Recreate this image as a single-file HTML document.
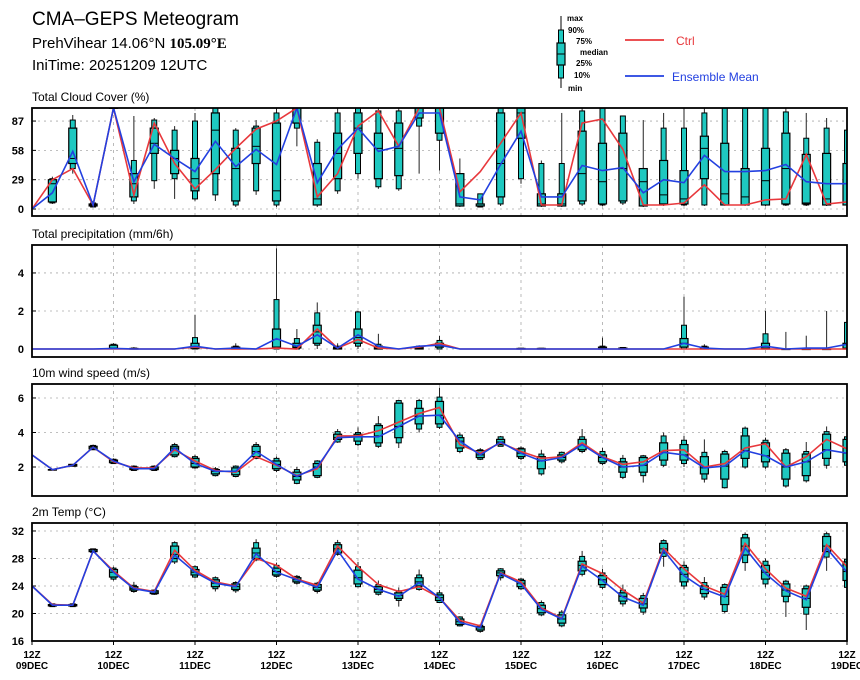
<!DOCTYPE html>
<html><head><meta charset="utf-8"><style>
body{margin:0;background:#fff;}
svg{display:block;font-family:"Liberation Sans",sans-serif;}
</style></head><body>
<svg id="chart" width="860" height="680" viewBox="0 0 860 680" xmlns="http://www.w3.org/2000/svg">
<rect width="860" height="680" fill="#fff"/>
<g>
<text x="32" y="25" font-size="19">CMA–GEPS Meteogram</text>
<text x="32" y="48" font-size="15">PrehVihear 14.06°N <tspan font-weight="bold" font-family="Liberation Serif,serif">105.09°E</tspan></text>
<text x="32" y="70" font-size="15">IniTime: 20251209 12UTC</text>
</g>
<g font-size="8" font-weight="bold">
<line x1="561" y1="16" x2="561" y2="88" stroke="#000" stroke-width="1"/>
<rect x="558.5" y="30" width="5" height="48" fill="#1ec8c0" stroke="#000" stroke-width="1"/>
<rect x="557" y="43" width="8" height="22" fill="#1ec8c0" stroke="#000" stroke-width="1.2"/>
<line x1="557" y1="54" x2="565" y2="54" stroke="#000"/>
<text x="567" y="21">max</text><text x="568" y="33">90%</text><text x="576" y="44">75%</text>
<text x="580" y="55">median</text><text x="576" y="66">25%</text><text x="574" y="78">10%</text><text x="568" y="91">min</text>
<line x1="625" y1="40" x2="664" y2="40" stroke="#e8383c" stroke-width="1.8"/>
<text x="676" y="45" font-size="12" font-weight="normal" fill="#e8383c">Ctrl</text>
<line x1="625" y1="76" x2="664" y2="76" stroke="#2340e0" stroke-width="1.8"/>
<text x="672" y="81" font-size="12" font-weight="normal" fill="#2340e0">Ensemble Mean</text>
</g>
</svg>
<script>
// ---- data ----
const dayLabels = ["09DEC","10DEC","11DEC","12DEC","13DEC","14DEC","15DEC","16DEC","17DEC","18DEC","19DEC"];
const cloudTicks = [0,29,58,87];
const precipTicks = [0,2,4];
const windTicks = [2,4,6];
const tempTicks = [16,20,24,28,32];

const cloudCtrl = [0,29,40,4,100,14,85,45,20,39,60,79,87,100,12,35,82,97,62,100,100,17,37,65,95,4,4,85,89,59,4,4,6,24,4,4,9,10,54,5,7];
const cloudMean = [0,16,57,4,100,27,64,50,37,67,42,59,44,100,26,59,80,57,62,95,95,12,9,44,77,12,12,43,38,41,16,29,26,53,37,37,38,44,27,25,25];
const cloudMin = [0,5,35,2,100,5,20,10,8,8,2,14,2,62,2,15,30,20,18,35,38,2,2,3,25,2,2,3,3,4,2,3,3,3,3,3,3,3,3,3,3];
const cloudP10 = [0,6,40,2,100,8,28,30,10,14,4,18,4,80,4,18,35,22,20,82,68,3,2,5,30,3,3,5,4,6,3,4,4,4,4,4,4,4,4,4,4];
const cloudQ1 = [0,7,45,3,100,12,55,35,18,35,8,45,8,85,4,30,55,30,33,90,75,3,3,12,70,3,3,8,5,8,3,5,5,30,4,4,4,5,5,4,4];
const cloudMed = [0,25,50,4,100,25,65,50,30,78,40,62,18,100,10,55,80,60,60,100,100,5,3,45,95,5,5,35,27,40,27,14,10,60,15,12,28,40,6,10,25];
const cloudQ3 = [0,29,80,5,100,35,80,58,50,95,60,80,85,100,45,75,95,75,85,100,100,35,5,95,100,15,15,77,65,75,40,48,38,72,65,40,60,75,54,55,45];
const cloudP90 = [0,30,88,6,100,48,88,78,87,100,78,82,95,100,66,95,100,97,97,100,100,35,15,100,100,45,45,97,100,92,40,80,80,95,100,100,100,96,70,80,78];
const cloudMax = [0,32,93,8,100,92,90,82,95,100,80,88,100,100,69,100,100,100,100,100,100,50,15,100,100,48,95,100,100,92,88,95,100,100,100,100,100,100,95,90,80];

const precCtrl = [0,0,0,0,0,0,0,0,0.1,0,0,0,0.05,0,1.05,0.05,0.5,0.05,0,0.1,0.3,0,0,0,0,0,0,0,0,0,0,0,0,0,0,0,0,0,0,0,0];
const precMean = [0,0,0,0,0.03,0,0,0,0.15,0,0.05,0,0.55,0.15,0.75,0.05,0.75,0.15,0,0.15,0.2,0,0,0,0,0,0,0,0,0,0,0,0.3,0.05,0,0,0.15,0,0.05,0.05,0.25];
const precMin = [0,0,0,0,0,0,0,0,0,0,0,0,0,0,0,0,0,0,0,0,0,0,0,0,0,0,0,0,0,0,0,0,0,0,0,0,0,0,0,0,0];
const precP10 = [0,0,0,0,0,0,0,0,0,0,0,0,0,0,0.2,0,0.15,0,0,0,0,0,0,0,0,0,0,0,0,0,0,0,0,0,0,0,0,0,0,0,0];
const precQ1 = [0,0,0,0,0.02,0,0,0,0.02,0,0,0,0.1,0.05,0.3,0,0.3,0,0,0,0.1,0,0,0,0,0,0,0,0,0,0,0,0.1,0,0,0,0,0,0,0,0];
const precMed = [0,0,0,0,0.05,0,0,0,0.1,0,0.05,0,0.5,0.1,0.9,0.05,0.6,0.05,0,0.05,0.2,0,0,0,0,0,0,0,0.05,0,0,0,0.3,0.05,0,0,0.05,0,0,0,0.05];
const precQ3 = [0,0,0,0,0.2,0.03,0,0,0.3,0,0.1,0,1.05,0.3,1.25,0.1,1.05,0.15,0,0.12,0.3,0,0,0,0.03,0.03,0,0,0.1,0.05,0,0,0.55,0.1,0,0,0.3,0,0,0,0.3];
const precP90 = [0,0,0,0,0.25,0.05,0,0,0.6,0,0.15,0,2.6,0.55,1.9,0.15,1.95,0.25,0,0.15,0.45,0,0,0,0.04,0.04,0,0,0.15,0.08,0,0,1.25,0.15,0,0,0.8,0,0,0,1.4];
const precMax = [0,0,0,0,0.3,0.1,0,0,1.8,0,0.3,0,5.3,1.05,2.45,0.3,2.0,0.8,0,0.2,0.7,0,0,0,0.05,0.05,0,0,0.6,0.1,0,0,2.75,0.25,0,0,2.0,0.9,0.7,2.0,1.45];

const windCtrl = [2.7,1.85,2.1,3.15,2.3,1.95,1.95,3.0,2.35,1.8,1.7,2.6,2.1,1.5,1.9,3.8,3.8,4.1,4.6,5.1,5.45,3.3,2.8,3.4,2.9,2.5,2.6,3.4,2.6,2.15,2.3,2.95,3.0,2.0,2.2,3.1,3.35,2.0,2.6,3.6,3.05];
const windMean = [2.7,1.85,2.1,3.15,2.35,1.9,1.9,3.1,2.2,1.75,1.75,2.9,2.15,1.45,2.0,3.7,3.75,3.75,4.35,4.95,5.0,3.5,2.7,3.45,2.8,2.35,2.55,3.3,2.55,2.0,2.1,2.85,2.7,1.95,2.05,2.95,2.65,2.0,2.3,3.0,2.8];
const windMin = [2.7,1.85,2.05,3.0,2.2,1.8,1.8,2.55,1.9,1.45,1.4,2.45,1.7,1.0,1.35,3.4,3.2,3.1,3.1,4.0,4.2,2.8,2.4,3.2,2.4,1.5,2.2,2.8,2.1,1.3,1.1,2.0,2.0,1.1,0.75,1.9,1.9,0.8,1.1,1.9,2.0];
const windP10 = [2.7,1.85,2.05,3.0,2.2,1.8,1.8,2.6,1.95,1.5,1.45,2.5,1.8,1.05,1.4,3.45,3.3,3.2,3.4,4.2,4.3,2.9,2.45,3.2,2.5,1.6,2.3,2.9,2.2,1.4,1.5,2.1,2.2,1.3,0.8,2.0,2.0,0.9,1.2,2.1,2.1];
const windQ1 = [2.7,1.85,2.05,3.05,2.25,1.85,1.85,2.7,2.0,1.6,1.55,2.6,1.9,1.25,1.5,3.6,3.5,3.4,3.7,4.5,4.5,3.1,2.55,3.3,2.6,1.9,2.4,3.0,2.3,1.7,1.7,2.4,2.4,1.6,1.3,2.5,2.3,1.3,1.5,2.5,2.3];
const windMed = [2.7,1.85,2.1,3.15,2.35,1.9,1.9,3.1,2.2,1.75,1.75,2.9,2.15,1.45,2.0,3.7,3.75,3.8,4.35,4.95,5.0,3.5,2.7,3.45,2.8,2.35,2.55,3.3,2.55,2.0,2.1,2.85,2.7,1.95,2.05,2.95,2.65,2.0,2.3,3.0,2.8];
const windQ3 = [2.7,1.85,2.15,3.2,2.4,2.0,2.0,3.2,2.5,1.85,1.95,3.2,2.35,1.7,2.2,3.9,3.9,4.4,5.7,5.4,5.8,3.7,2.95,3.6,3.05,2.6,2.7,3.6,2.7,2.3,2.55,3.4,3.3,2.6,2.75,3.8,3.4,2.8,2.75,3.9,3.6];
const windP90 = [2.7,1.85,2.15,3.25,2.45,2.05,2.05,3.3,2.6,1.9,2.05,3.3,2.5,1.85,2.35,4.05,4.0,4.5,5.85,5.85,6.05,3.85,3.0,3.75,3.1,2.75,2.85,3.75,2.9,2.5,2.65,3.8,3.55,2.85,2.9,4.25,3.55,3.0,2.9,4.05,3.75];
const windMax = [2.7,1.85,2.15,3.3,2.5,2.1,2.1,3.4,2.7,2.0,2.1,3.45,2.6,2.0,2.4,4.2,4.3,4.95,5.9,5.95,6.6,4.0,3.1,3.8,3.2,3.0,2.9,4.2,3.1,2.7,2.7,4.0,3.8,3.6,3.0,4.35,3.7,3.1,3.45,4.35,3.8];

const tempCtrl = [24,21.3,21.2,29.1,26.2,23.7,23.2,29.2,26.3,24.6,24.0,28.0,27.0,25.0,24.1,29.8,26.8,24.2,23.2,23.9,22.3,19.0,18.2,25.9,24.6,20.8,19.3,27.2,25.8,23.4,21.5,29.5,26.5,24.0,22.8,30.2,26.5,23.7,22.5,30.0,26.8];
const tempMean = [24,21.2,21.2,29.1,26.0,23.6,23.1,28.5,26.0,24.4,23.9,28.7,26.0,24.9,23.8,29.2,25.0,23.5,22.5,24.5,22.3,18.7,17.9,25.8,24.3,20.6,19.2,26.9,24.8,22.4,21.2,29.2,25.5,23.5,22.4,29.5,25.8,23.3,22.0,29.5,26.0];
const tempMin = [24,21.0,21.0,28.9,24.8,23.0,22.7,27.2,25.1,23.2,23.0,27.6,25.2,24.2,22.9,28.4,23.8,22.6,21.0,23.3,21.5,18.1,17.2,24.8,23.4,19.6,18.0,25.4,23.5,21.0,19.8,26.8,23.5,22.0,20.0,26.2,23.8,19.5,17.6,26.2,23.0];
const tempP10 = [24,21.0,21.0,28.9,25.0,23.2,22.8,27.5,25.3,23.6,23.3,27.8,25.4,24.4,23.2,28.6,23.9,22.8,21.9,23.5,21.6,18.2,17.4,25.2,23.6,19.8,18.2,25.7,23.8,21.4,20.2,28.3,24.0,22.4,20.3,27.4,24.3,21.7,19.9,28.2,23.8];
const tempQ1 = [24,21.1,21.1,29.0,25.3,23.4,22.9,28.0,25.6,23.9,23.5,28.0,25.6,24.6,23.4,28.8,24.3,23.1,22.2,24.0,21.9,18.4,17.6,25.5,23.9,20.1,18.6,26.2,24.2,21.8,20.8,28.8,24.6,22.9,21.3,28.5,25.0,22.5,20.9,29.0,24.8];
const tempMed = [24,21.2,21.2,29.1,26.0,23.6,23.1,28.6,26.0,24.4,23.9,28.8,26.1,24.9,23.8,29.4,25.2,23.5,22.6,24.6,22.3,18.8,17.9,25.9,24.4,20.7,19.2,27.0,24.9,22.5,21.4,29.4,25.7,23.5,22.5,29.8,26.0,23.4,22.2,29.8,26.1];
const tempQ3 = [24,21.3,21.3,29.3,26.4,23.9,23.3,29.8,26.4,24.9,24.3,29.5,26.6,25.2,24.2,30.0,26.3,23.9,23.0,25.2,22.7,19.2,18.1,26.2,24.8,21.2,19.8,27.6,25.5,23.0,22.2,30.2,26.7,24.0,23.8,31.0,27.0,24.3,23.6,31.2,27.5];
const tempP90 = [24,21.4,21.4,29.4,26.6,24.1,23.4,30.3,26.8,25.2,24.5,30.3,27.0,25.4,24.4,30.3,26.8,24.2,23.3,25.6,23.0,19.5,18.3,26.5,25.0,21.6,20.2,28.3,25.9,23.4,22.6,30.6,27.0,24.5,24.2,31.5,27.6,24.7,24.0,31.6,27.9];
const tempMax = [24,21.4,21.5,29.4,26.8,24.6,23.5,30.5,27.0,25.4,24.7,30.8,27.4,25.6,24.6,30.7,27.5,24.8,23.8,26.4,23.4,19.6,18.4,26.6,25.2,21.9,20.5,29.1,26.5,24.2,23.0,30.8,27.6,25.3,24.4,31.8,28.0,24.9,24.2,31.9,28.0];

// ---- drawing ----
const NS = "http://www.w3.org/2000/svg";
const svg = document.getElementById('chart');
const X0 = 32, X1 = 847, NSTEP = 40;
function xAt(i){ return X0 + (X1 - X0) * i / NSTEP; }
function mk(tag, attrs, parent){
  const e = document.createElementNS(NS, tag);
  for (const k in attrs) e.setAttribute(k, attrs[k]);
  (parent || svg).appendChild(e);
  return e;
}

function panel(cfg){
  const g = mk('g', {});
  
  
  const yAt = v => cfg.bottom - (v - cfg.ymin) / (cfg.ymax - cfg.ymin) * (cfg.bottom - cfg.top);
  const t = mk('text', {x: 32, y: cfg.top - 7, 'font-size': 12}, g);
  t.textContent = cfg.title;
  
  
  // grid
  for (let d = 1; d < 10; d++){
    const x = xAt(d * 4);
    const l = mk('line', {x1: x, x2: x, y1: cfg.top, y2: cfg.bottom, stroke: '#aaa', 'stroke-width': 0.8, 'stroke-dasharray': '3,4'}, g);
    
    
  }
  cfg.ticks.forEach(v => {
    const y = yAt(v);
    const l = mk('line', {x1: X0, x2: X1, y1: y, y2: y, stroke: '#aaa', 'stroke-width': 0.8, 'stroke-dasharray': '2,4'}, g);
    
    
    mk('line', {x1: X0, x2: X0 + 4, y1: y, y2: y, stroke: '#000', 'stroke-width': 1}, g);
    const tl = mk('text', {x: 24, y: y + 4, 'font-size': 11, 'font-weight': 'bold', 'text-anchor': 'end'}, g);
    tl.textContent = v;
    
    
  });
  const clipId = 'clip-' + cfg.name;
  const cp = mk('clipPath', {id: clipId}, g);
  mk('rect', {x: X0, y: cfg.top, width: X1 - X0, height: cfg.bottom - cfg.top}, cp);
  const pg = mk('g', {'clip-path': 'url(#' + clipId + ')'}, g);
  // boxes
  for (let i = 1; i <= NSTEP; i++){
    if (cfg.skipZero && cfg.max[i] <= 0) continue;
    const x = xAt(i);
    const bg = mk('g', {}, pg);
    
    
    mk('line', {x1: x, x2: x, y1: yAt(cfg.min[i]), y2: yAt(cfg.max[i]), stroke: '#222', 'stroke-width': 1}, bg);
    const a = yAt(cfg.p90[i]), b = yAt(cfg.p10[i]);
    mk('rect', {x: x - 2.5, y: a, width: 5, height: Math.max(b - a, 0.5), fill: '#1ec8c0', stroke: '#000', 'stroke-width': 1}, bg);
    const c = yAt(cfg.q3[i]), d = yAt(cfg.q1[i]);
    mk('rect', {x: x - 4, y: c, width: 8, height: Math.max(d - c, 0.5), fill: '#1ec8c0', stroke: '#000', 'stroke-width': 1.2}, bg);
    const m = yAt(cfg.med[i]);
    mk('line', {x1: x - 4, x2: x + 4, y1: m, y2: m, stroke: '#000', 'stroke-width': 1}, bg);
  }
  const pts = arr => arr.map((v, i) => xAt(i).toFixed(1) + ',' + yAt(v).toFixed(1)).join(' ');
  const cl = mk('polyline', {points: pts(cfg.ctrl), fill: 'none', stroke: '#e8383c', 'stroke-width': 1.6}, pg);
  
  
  const ml = mk('polyline', {points: pts(cfg.mean), fill: 'none', stroke: '#2340e0', 'stroke-width': 1.6}, pg);
  
  
  const fr = mk('rect', {x: X0, y: cfg.top, width: X1 - X0, height: cfg.bottom - cfg.top, fill: 'none', stroke: '#000', 'stroke-width': 1.8}, g);
  
  
}

panel({name: 'cloud', title: 'Total Cloud Cover (%)', top: 108, bottom: 216, ymin: -6.9, ymax: 99.9, ticks: cloudTicks,
  ctrl: cloudCtrl, mean: cloudMean, min: cloudMin, p10: cloudP10, q1: cloudQ1, med: cloudMed, q3: cloudQ3, p90: cloudP90, max: cloudMax});
panel({name: 'precip', title: 'Total precipitation (mm/6h)', top: 245, bottom: 357, ymin: -0.42, ymax: 5.47, ticks: precipTicks, skipZero: true,
  ctrl: precCtrl, mean: precMean, min: precMin, p10: precP10, q1: precQ1, med: precMed, q3: precQ3, p90: precP90, max: precMax});
panel({name: 'wind', title: '10m wind speed (m/s)', top: 384, bottom: 496, ymin: 0.32, ymax: 6.81, ticks: windTicks,
  ctrl: windCtrl, mean: windMean, min: windMin, p10: windP10, q1: windQ1, med: windMed, q3: windQ3, p90: windP90, max: windMax});
panel({name: 'temp', title: '2m Temp (°C)', top: 523, bottom: 641, ymin: 16, ymax: 33.16, ticks: tempTicks,
  ctrl: tempCtrl, mean: tempMean, min: tempMin, p10: tempP10, q1: tempQ1, med: tempMed, q3: tempQ3, p90: tempP90, max: tempMax});

// x-axis labels
dayLabels.forEach((lab, d) => {
  const x = xAt(d * 4);
  const g = mk('g', {});
  
  
  mk('line', {x1: x, x2: x, y1: 641, y2: 645, stroke: '#000'}, g);
  const t1 = mk('text', {x: x, y: 658, 'font-size': 10, 'font-weight': 'bold', 'text-anchor': 'middle'}, g);
  t1.textContent = '12Z';
  const t2 = mk('text', {x: x, y: 669, 'font-size': 10, 'font-weight': 'bold', 'text-anchor': 'middle'}, g);
  t2.textContent = lab;
});
</script>
</body></html>
